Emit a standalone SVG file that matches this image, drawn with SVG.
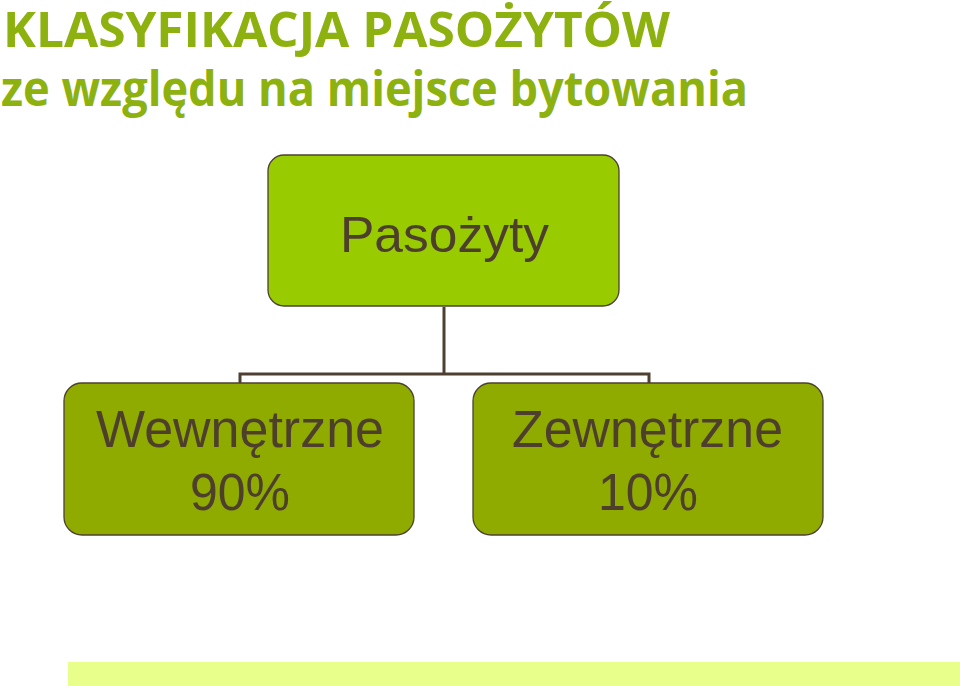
<svg xmlns="http://www.w3.org/2000/svg" width="960" height="686" viewBox="0 0 960 686">
<style>
.title{font-family:"Open Sans","Liberation Sans",sans-serif;fill:#8db10e;font-weight:700}
.box{stroke:#4d4030;stroke-width:1.3}
.lbl{font-family:"Liberation Sans",Arial,sans-serif;fill:#4d3f2c;text-anchor:middle}
.conn{fill:none;stroke:#4d4030;stroke-width:3}
</style>
<rect x="0" y="0" width="960" height="686" fill="#ffffff"/>
<text class="title" x="3" y="47" font-size="48" textLength="667" lengthAdjust="spacingAndGlyphs">KLASYFIKACJA PASOŻYTÓW</text>
<text class="title" x="1" y="106" font-size="49" textLength="747" lengthAdjust="spacingAndGlyphs">ze względu na miejsce bytowania</text>
<g id="connectors">
<path class="conn" d="M444 307 V374 M240 374 H649 M240 372.5 V383 M649 372.5 V383"/>
</g>
<g id="pasozyty">
<rect class="box" x="268" y="155" width="351" height="151" rx="16" fill="#99cc00"/>
<text class="lbl" x="444.5" y="252" font-size="50" textLength="209" lengthAdjust="spacingAndGlyphs">Pasożyty</text>
</g>
<g id="wewnetrzne">
<rect class="box" x="64" y="383" width="350" height="152" rx="18" fill="#8fab00"/>
<text class="lbl" x="240" y="447" font-size="51" textLength="288" lengthAdjust="spacingAndGlyphs">Wewnętrzne</text>
<text class="lbl" x="240" y="510" font-size="51" textLength="100" lengthAdjust="spacingAndGlyphs">90%</text>
</g>
<g id="zewnetrzne">
<rect class="box" x="473" y="383" width="350" height="152" rx="18" fill="#8fab00"/>
<text class="lbl" x="647.5" y="447" font-size="51" textLength="271" lengthAdjust="spacingAndGlyphs">Zewnętrzne</text>
<text class="lbl" x="648" y="510" font-size="51" textLength="100" lengthAdjust="spacingAndGlyphs">10%</text>
</g>
<rect x="68" y="662" width="892" height="24" fill="#e8ff8c"/>
</svg>
